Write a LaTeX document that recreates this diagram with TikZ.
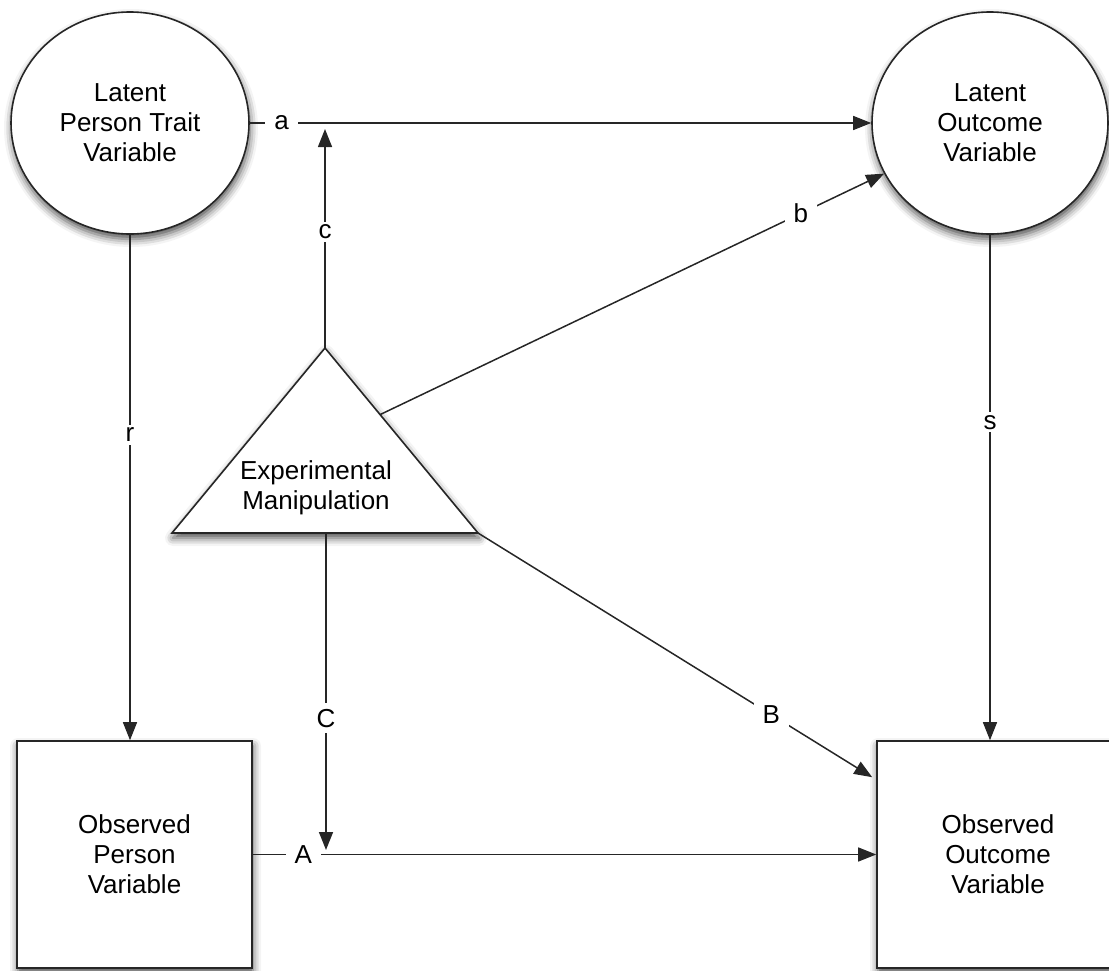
\documentclass[tikz,border=0pt]{standalone}
\usepackage{fontspec}
\setmainfont{Liberation Sans}
\usetikzlibrary{arrows.meta,shapes.geometric,shadows.blur,calc}
\tikzset{
  shp/.style={draw=black!85, line width=1.6pt, fill=white,
    blur shadow={shadow xshift=1pt, shadow yshift=-5pt, shadow blur radius=8pt, shadow opacity=70}},
  latent/.style={shp, ellipse, inner sep=0pt, minimum width=238pt, minimum height=222pt,
    align=center, font=\fontsize{26}{30}\selectfont},
  observed/.style={shp, rectangle, inner sep=0pt, minimum width=235pt, minimum height=227pt,
    align=center, font=\fontsize{26}{30}\selectfont},
  arr/.style={draw=black!85, line width=1.5pt, -{Triangle[length=18pt,width=14pt]}},
  lab/.style={fill=white, inner xsep=9pt, inner ysep=3pt, font=\fontsize{26}{30}\selectfont},
  txt/.style={align=center, font=\fontsize{26}{30}\selectfont}
}
\begin{document}
\begin{tikzpicture}[x=1pt,y=-1pt]
\useasboundingbox (0,0) rectangle (1109,970);
% nodes
\node[latent] (LP) at (130,123) {Latent\\Person Trait\\Variable};
\node[latent, minimum width=236pt] (LO) at (990,123) {Latent\\Outcome\\Variable};
\node[observed] (OP) at (134.5,854.5) {Observed\\Person\\Variable};
\node[observed, minimum width=242pt] (OO) at (998,854.5) {Observed\\Outcome\\Variable};
% triangle
\coordinate (Tapex) at (325,348);
\coordinate (Tl) at (172,533);
\coordinate (Tr) at (478,533);
\path[shp] (Tapex) -- (Tr) -- (Tl) -- cycle;
\node[txt] (EM) at (316,488) {Experimental\\Manipulation};
\coordinate (bStart) at ($(Tapex)!0.36!(Tr)$);
\coordinate (Cb) at (326,533);
\coordinate (cTip) at (325,129);
\coordinate (CTip) at (326,850);
\coordinate (BTip) at ($(OO.north west)+(-4,37)$);
% connectors
\draw[arr] (LP.east) -- node[lab, pos=0.051] {a} (LO.west);
\draw[arr] (Tapex) -- node[lab, pos=0.53] {c} (cTip);
\draw[arr] (bStart) -- node[lab, pos=0.835] {b} (LO);
\draw[arr] (LP.south) -- node[lab, pos=0.396, inner xsep=4pt] {r} (LP.south |- OP.north);
\draw[arr] (LO.south) -- node[lab, pos=0.371, inner xsep=4pt] {s} (LO.south |- OO.north);
\draw[arr] (Cb) -- node[lab, pos=0.584, inner xsep=4pt, inner ysep=6pt] {C} (CTip);
\draw[arr] (Tr) -- node[lab, pos=0.744] {B} (BTip);
\draw[arr] (OP.east) -- node[lab, pos=0.081] {A} (OO.west);
\end{tikzpicture}
\end{document}
